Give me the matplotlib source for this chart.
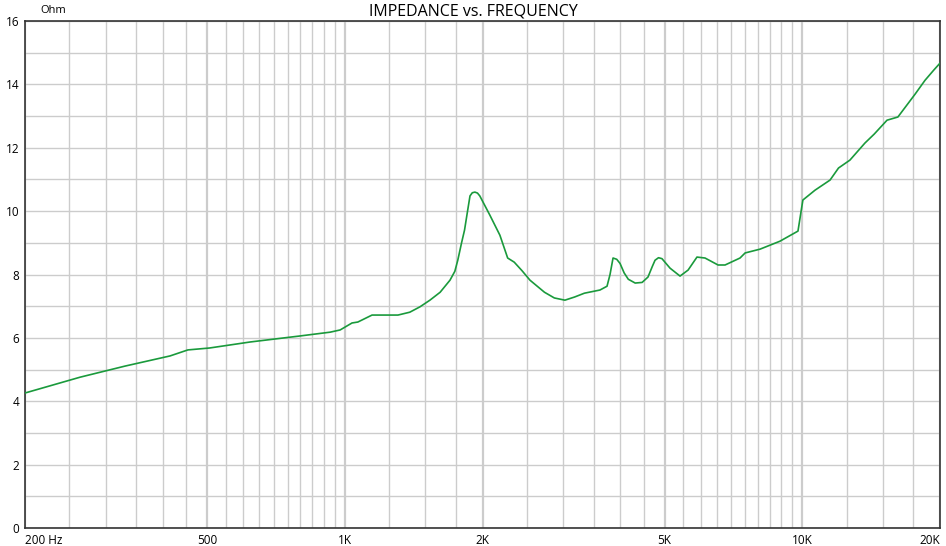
import matplotlib.pyplot as plt
import numpy as np

# Impedance curve (Hz, Ohm)
freq = [200, 264, 331, 415, 454, 506, 621, 798, 929, 977, 1037, 1068, 1147, 1307,
        1387, 1460, 1535, 1616, 1698, 1740, 1766, 1800, 1827, 1855, 1878, 1900,
        1925, 1950, 1973, 2076, 2183, 2270, 2346, 2440, 2540, 2732, 2871, 3028,
        3180, 3340, 3612, 3743, 3800, 3858, 3930, 3996, 4080, 4166, 4313, 4466,
        4600, 4700, 4766, 4850, 4935, 5140, 5405, 5629, 5886, 6130, 6545, 6780,
        7310, 7500, 8085, 8935, 9786, 10030, 10660, 11500, 12000, 12710, 13710,
        14360, 15320, 16180, 17640, 18550, 19380, 20000]
ohm = [4.26, 4.76, 5.11, 5.43, 5.62, 5.68, 5.87, 6.06, 6.18, 6.25, 6.47, 6.50,
       6.72, 6.72, 6.81, 6.98, 7.19, 7.44, 7.82, 8.10, 8.45, 9.00, 9.40, 10.00,
       10.48, 10.58, 10.60, 10.57, 10.48, 9.87, 9.24, 8.52, 8.39, 8.12, 7.82,
       7.44, 7.26, 7.19, 7.29, 7.41, 7.51, 7.63, 8.00, 8.52, 8.48, 8.35, 8.05,
       7.85, 7.73, 7.75, 7.92, 8.25, 8.45, 8.53, 8.50, 8.20, 7.95, 8.14, 8.55,
       8.52, 8.30, 8.30, 8.52, 8.68, 8.80, 9.05, 9.37, 10.35, 10.66, 10.98,
       11.36, 11.61, 12.15, 12.43, 12.87, 12.97, 13.69, 14.13, 14.45, 14.67]

xtick_pos = [200, 500, 1000, 2000, 5000, 10000, 20000]
xtick_lab = ['200 Hz', '500', '1K', '2K', '5K', '10K', '20K']

plt.rcParams['font.family'] = ['Open Sans', 'DejaVu Sans']

fig = plt.figure(figsize=(9.46, 5.46), dpi=100)
ax = fig.add_axes([25/946, 18/546, 915/946, 507/546])

# vertical grid: 50 Hz steps to 1K, 250 to 2K, 500 to 10K, 2500 to 20K
vgrid = (list(range(200, 1000, 50)) + list(range(1000, 2000, 250))
         + list(range(2000, 10000, 500)) + list(range(10000, 20001, 2500)))
for f in vgrid:
    lw = 1.6 if f in xtick_pos else 1.0
    ax.axvline(f, color='#cccccc', lw=lw, zorder=0)
for y in range(0, 17):
    ax.axhline(y, color='#cccccc', lw=1.0, zorder=0)

ax.plot(freq, ohm, color='#1a9a3c', lw=1.2, zorder=3)

ax.set_xscale('log')
ax.set_xlim(200, 20000)
ax.set_ylim(0, 16)
ax.set_xticks(xtick_pos)
ax.set_xticklabels(xtick_lab, fontsize=8.5)
ax.xaxis.set_minor_locator(plt.NullLocator())
ax.set_yticks(range(0, 17, 2))
ax.set_yticklabels([str(v) for v in range(0, 17, 2)], fontsize=8.5)
ax.tick_params(length=0, pad=4)
ax.get_xticklabels()[0].set_ha('left')
ax.get_xticklabels()[-1].set_ha('right')
for s in ax.spines.values():
    s.set_color('#333333')
    s.set_linewidth(1.2)

fig.text(40/946, 1 - 13/546, 'Ohm', fontsize=8, ha='left', va='baseline')
fig.text(0.5, 1 - 16/546, 'IMPEDANCE vs. FREQUENCY', fontsize=11.5, ha='center', va='baseline')

plt.savefig('out.png', dpi=100)
